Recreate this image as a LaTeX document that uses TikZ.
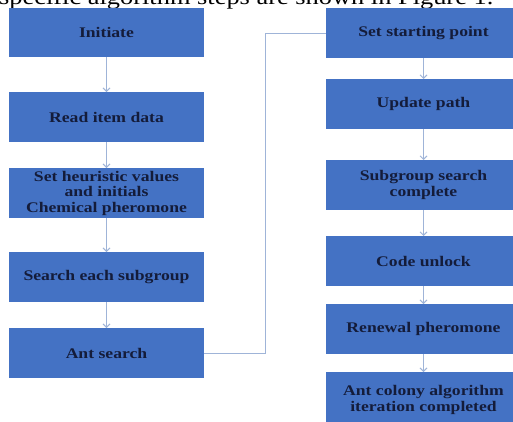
\documentclass[tikz,border=0pt]{standalone}
\usepackage{fontspec}
\setmainfont[FakeStretch=1.2]{Liberation Serif}
\usetikzlibrary{arrows.meta}
\definecolor{boxblue}{HTML}{4472C4}
\definecolor{boxtext}{HTML}{141C3A}
\definecolor{connc}{HTML}{9FB4D8}
\begin{document}
\begin{tikzpicture}[x=1pt,y=-1pt,
  stepbox/.style={fill=boxblue, draw=none, minimum width=195pt, minimum height=50pt,
    inner sep=0pt, outer sep=0pt, align=center, text=boxtext,
    font=\bfseries\fontsize{14.7}{15.5}\selectfont},
  conn/.style={draw=connc, line width=0.9pt},
  arr/.style={conn, -{Straight Barb[length=3.5pt,width=7pt]}}]
\useasboundingbox (0,0) rectangle (513,421);
\clip (0,0) rectangle (513,421);
\fill[white] (0,0) rectangle (513,421);
\node[anchor=base west, inner sep=0pt, font=\fontsize{22}{24}\selectfont] (cap) at (-1,4.5) {specific algorithm steps are shown in Figure 1.};
% left column
\node[stepbox, minimum height=49pt] (L1) at (106.5,32.5) {Initiate};
\node[stepbox] (L2) at (106.5,117) {Read item data};
\node[stepbox] (L3) at (106.5,193) {Set heuristic values\\and initials\\Chemical pheromone};
\node[stepbox] (L4) at (106.5,277) {Search each subgroup};
\node[stepbox] (L5) at (106.5,353) {Ant search};
% right column
\node[stepbox] (R1) at (423.5,33) {Set starting point};
\node[stepbox] (R2) at (423.5,104) {Update path};
\node[stepbox] (R3) at (423.5,185) {Subgroup search\\complete};
\node[stepbox] (R4) at (423.5,261) {Code unlock};
\node[stepbox] (R5) at (423.5,329) {Renewal pheromone};
\node[stepbox, minimum height=56pt] (R6) at (423.5,400) {Ant colony algorithm\\iteration completed};
% arrows
\draw[arr] (L1) -- (L2);
\draw[arr] (L2) -- (L3);
\draw[arr] (L3) -- (L4);
\draw[arr] (L4) -- (L5);
\draw[arr] (R1) -- (R2);
\draw[arr] (R2) -- (R3);
\draw[arr] (R3) -- (R4);
\draw[arr] (R4) -- (R5);
\draw[arr] (R5) -- (R6);
\coordinate (bx) at (265,0);
\draw[conn] (L5.east) -- (L5.east -| bx) -- (bx |- R1.west) -- (R1.west);
\end{tikzpicture}
\end{document}
